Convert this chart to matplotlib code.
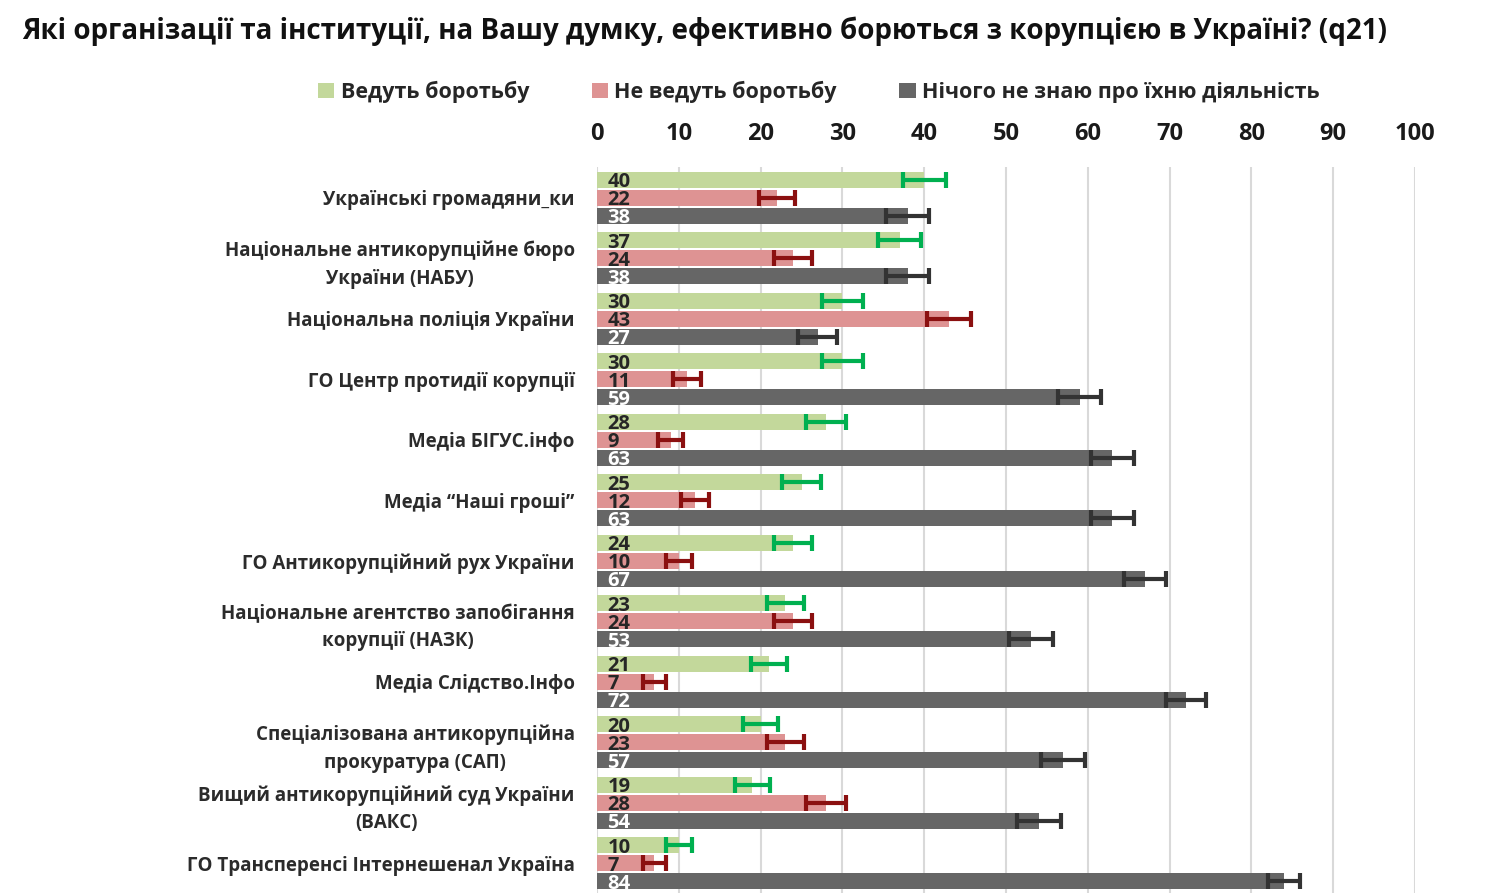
import matplotlib
matplotlib.use("Agg")
import matplotlib.pyplot as plt
import numpy as np
from matplotlib.patches import Patch

plt.rcParams['font.family'] = ['Open Sans', 'DejaVu Sans']

categories = [
    "Українські громадяни_ки",
    "Національне антикорупційне бюро\nУкраїни (НАБУ)",
    "Національна поліція України",
    "ГО Центр протидії корупції",
    "Медіа БІГУС.інфо",
    "Медіа “Наші гроші”",
    "ГО Антикорупційний рух України",
    "Національне агентство запобігання\nкорупції (НАЗК)",
    "Медіа Слідство.Інфо",
    "Спеціалізована антикорупційна\nпрокуратура (САП)",
    "Вищий антикорупційний суд України\n(ВАКС)",
    "ГО Трансперенсі Інтернешенал Україна",
]
fight = [40, 37, 30, 30, 28, 25, 24, 23, 21, 20, 19, 10]
no_fight = [22, 24, 43, 11, 9, 12, 10, 24, 7, 23, 28, 7]
unknown = [38, 38, 27, 59, 63, 63, 67, 53, 72, 57, 54, 84]

fight_err = [2.65, 2.61, 2.47, 2.47, 2.42, 2.34, 2.31, 2.27, 2.20, 2.16, 2.12, 1.62]
no_fight_err = [2.24, 2.31, 2.67, 1.69, 1.55, 1.75, 1.62, 2.31, 1.38, 2.27, 2.42, 1.38]
unknown_err = [2.62, 2.62, 2.40, 2.66, 2.61, 2.61, 2.54, 2.69, 2.42, 2.67, 2.69, 1.98]

series_names = ["Ведуть боротьбу", "Не ведуть боротьбу", "Нічого не знаю про їхню діяльність"]
bar_colors = ["#c3d89b", "#de9393", "#666666"]
err_colors = ["#00b050", "#8b1010", "#333333"]
label_colors = ["#262626", "#262626", "#ffffff"]

W, H = 1500, 893
fig = plt.figure(figsize=(W / 100, H / 100), dpi=100)
ax_left, ax_right = 597, 1415
ax_top, ax_bot = 167, 893
ax = fig.add_axes([ax_left / W, 1 - ax_bot / H, (ax_right - ax_left) / W, (ax_bot - ax_top) / H])

n = len(categories)
y = np.arange(n)
pitch = 0.2975
height = 0.264
data = [fight, no_fight, unknown]
errs = [fight_err, no_fight_err, unknown_err]

for k in range(3):
    pos = y + (k - 1) * pitch
    ax.barh(pos, data[k], height=height, color=bar_colors[k], zorder=2)
    ax.errorbar(data[k], pos, xerr=errs[k], fmt='none', ecolor=err_colors[k],
                elinewidth=3, capsize=6, capthick=3, zorder=3)
    for p, v in zip(pos, data[k]):
        ax.annotate(str(v), xy=(0, p), xytext=(7.5, 0), textcoords='offset points',
                    ha='left', va='center_baseline', fontsize=14.5, fontweight='bold',
                    color=label_colors[k], zorder=4)

ax.set_xlim(0, 100)
ax.set_ylim(11.49, -0.512)
ax.set_xticks(range(0, 101, 10))
ax.xaxis.tick_top()
ax.tick_params(axis='x', length=0, pad=15, labelsize=17, labelcolor='#1a1a1a')
for t in ax.get_xticklabels():
    t.set_fontweight('bold')
ax.set_yticks(y)
ax.set_yticklabels(categories)
ax.tick_params(axis='y', length=0, pad=16, labelsize=13.5, labelcolor='#2b2b2b')
for t in ax.get_yticklabels():
    t.set_fontweight('bold')
    t.set_multialignment('center')
    t.set_linespacing(1.5)

ax.grid(axis='x', color='#d9d9d9', linewidth=1.5, zorder=0)
ax.set_axisbelow(True)
for s in ax.spines.values():
    s.set_visible(False)

fig.text(22 / W, 1 - 31 / H,
         "Які організації та інституції, на Вашу думку, ефективно борються з корупцією в Україні? (q21)",
         ha='left', va='center', fontsize=20, fontweight='bold', color='#111111')

handles = [Patch(facecolor=c, edgecolor='none') for c in bar_colors]
leg = fig.legend(handles, series_names, loc='center', bbox_to_anchor=(819 / W, 1 - 92 / H),
                 ncol=3, frameon=False, handlelength=0.75, handleheight=0.75, handletextpad=0.3,
                 columnspacing=2.9, prop={'size': 15.5, 'weight': 'bold'})
for t in leg.get_texts():
    t.set_color('#262626')

fig.savefig("out.png", dpi=100)
